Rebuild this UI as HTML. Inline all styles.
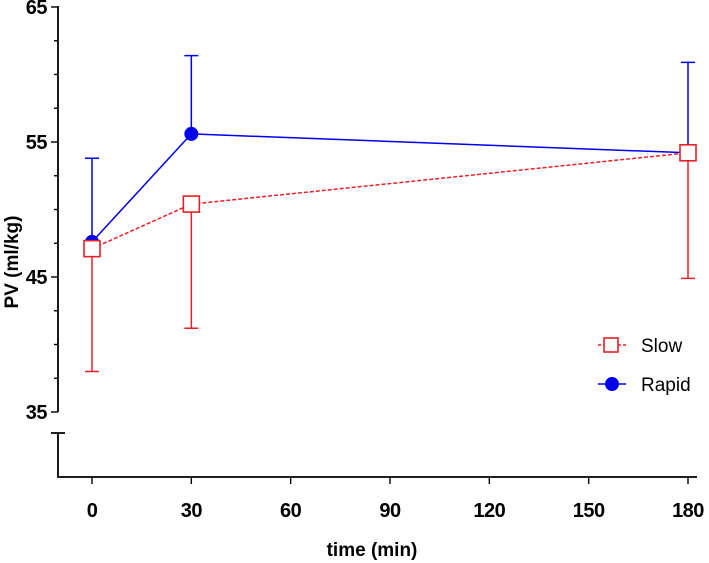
<!DOCTYPE html>
<html><head><meta charset="utf-8"><style>
html,body{margin:0;padding:0;background:#fff;}
svg{display:block;font-family:"Liberation Sans",Arial,sans-serif;}
</style></head><body>
<svg id="chart" width="709" height="563">
<g id="axes"></g>
<g id="marks"></g>
<text x="13" y="262" transform="rotate(-90 13 262)" text-anchor="middle" dominant-baseline="middle" font-weight="bold" font-size="19">PV (ml/kg)</text>
<text x="372" y="556" text-anchor="middle" font-weight="bold" font-size="19">time (min)</text>
<g>
<g>
<line x1="598" y1="345" x2="626" y2="345" stroke="#e8202a" stroke-width="1.5" stroke-dasharray="3,2"/>
<rect x="604" y="338" width="14" height="14" fill="#fff" stroke="#e8202a" stroke-width="1.6"/>
<text x="641" y="352" font-size="19">Slow</text></g>
<g>
<line x1="598" y1="384" x2="626" y2="384" stroke="#0000ee" stroke-width="1.5"/>
<circle cx="612" cy="384" r="7" fill="#0000ee"/>
<text x="641" y="391" font-size="19">Rapid</text></g>
</g>
</svg>
<script>
const times=[0,30,180];
const slowMean=[47.1,50.4,54.2];
const slowSD=[9.1,9.2,9.3];
const rapidMean=[47.6,55.6,54.2];
const rapidSD=[6.2,5.8,6.7];
const xTicks=[0,30,60,90,120,150,180];
const yTicks=[35,45,55,65];
const NS="http://www.w3.org/2000/svg";
function xs(t){return 92+t*(596/180);}
function ys(v){return 7+(65-v)*13.5;}
function mk(tag,attrs,parent){const e=document.createElementNS(NS,tag);for(const k in attrs)e.setAttribute(k,attrs[k]);parent.appendChild(e);return e;}
const ax=document.getElementById('axes'),mg=document.getElementById('marks');
let e;
e=mk('line',{x1:58,y1:6,x2:58,y2:412,stroke:'#000','stroke-width':1.8},ax);


e=mk('path',{d:'M51 433H65M58 433V477H697',stroke:'#000','stroke-width':1.8,fill:'none'},ax);


for(let v=35;v<=65;v+=2.5){
 const major=yTicks.includes(v);
 e=mk('line',{x1:major?51:54,x2:58,y1:ys(v),y2:ys(v),stroke:'#000','stroke-width':1.4},ax);
 
 
}
yTicks.forEach(v=>{
 e=mk('text',{x:47,y:ys(v)+7,'text-anchor':'end','font-weight':'bold','font-size':20,'letter-spacing':'-0.5'},ax);
 e.textContent=v;
 
 
});
xTicks.forEach(t=>{
 e=mk('line',{x1:xs(t),x2:xs(t),y1:477,y2:484,stroke:'#000','stroke-width':1.4},ax);
 
 
 e=mk('text',{x:xs(t),y:517,'text-anchor':'middle','font-weight':'bold','font-size':20,'letter-spacing':'-0.5'},ax);
 e.textContent=t;
 
 
});
times.forEach((t,i)=>{
 const x=xs(t);
 e=mk('path',{d:`M${x} ${ys(rapidMean[i])}V${ys(rapidMean[i]+rapidSD[i])}M${x-7} ${ys(rapidMean[i]+rapidSD[i])}H${x+7}`,stroke:'#0000ee','stroke-width':1.5,fill:'none'},mg);
 
 
 e=mk('path',{d:`M${x} ${ys(slowMean[i])}V${ys(slowMean[i]-slowSD[i])}M${x-7} ${ys(slowMean[i]-slowSD[i])}H${x+7}`,stroke:'#e8202a','stroke-width':1.5,fill:'none'},mg);
 
 
});
e=mk('polyline',{points:times.map((t,i)=>xs(t)+','+ys(rapidMean[i])).join(' '),stroke:'#0000ee','stroke-width':1.5,fill:'none'},mg);


e=mk('polyline',{points:times.map((t,i)=>xs(t)+','+ys(slowMean[i])).join(' '),stroke:'#e8202a','stroke-width':1.5,'stroke-dasharray':'4,2',fill:'none'},mg);


times.forEach((t,i)=>{
 e=mk('circle',{cx:xs(t),cy:ys(rapidMean[i]),r:7,fill:'#0000ee'},mg);
 
 
});
times.forEach((t,i)=>{
 e=mk('rect',{x:xs(t)-8,y:ys(slowMean[i])-8,width:16,height:16,fill:'#fff',stroke:'#e8202a','stroke-width':1.6},mg);
 
 
});
</script>
</body></html>
